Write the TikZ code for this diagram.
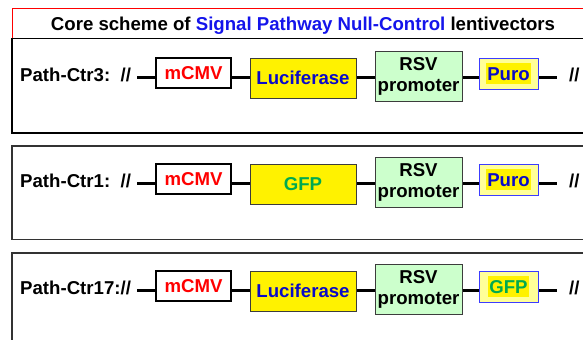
\documentclass[tikz,border=0pt]{standalone}
\usepackage{fontspec}
\setmainfont{Liberation Sans}
\definecolor{titleblue}{RGB}{20,20,235}
\definecolor{lucblue}{RGB}{10,10,200}
\definecolor{gfpgreen}{RGB}{0,170,80}
\definecolor{rsvgreen}{RGB}{204,255,204}
\definecolor{purofill}{RGB}{255,255,153}
\definecolor{puroedge}{RGB}{60,60,255}
\definecolor{mcmvred}{RGB}{255,0,0}
\definecolor{edgegray}{RGB}{60,60,60}
\newcommand\hlbox[2]{{\fboxsep=0pt\colorbox{yellow}{\kern1bp\rule[-4bp]{0pt}{21bp}\textcolor{#1}{#2}\kern1bp}}}
\begin{document}
\begin{tikzpicture}[x=1bp,y=-1bp,
  font=\fontsize{18.7}{21}\selectfont\bfseries,
  panel/.style={draw=black, line width=1.2bp},
  titlebox/.style={draw=red, line width=1bp},
  gene/.style={inner sep=0pt, anchor=center, align=center},
  mcmvbox/.style={gene, draw=black, line width=2bp, fill=white, minimum width=75bp, minimum height=30bp, text=mcmvred},
  midbox/.style={gene, draw=edgegray, line width=1bp, fill=yellow, minimum width=106bp, minimum height=40bp},
  rsvbox/.style={gene, draw=edgegray, line width=1bp, fill=rsvgreen, minimum width=87bp, minimum height=50bp, text=black},
  lastbox/.style={gene, draw=puroedge, line width=1bp, fill=purofill, minimum width=59bp, minimum height=31bp},
  conn/.style={draw=black, line width=3bp},
  rowlabel/.style={anchor=base west, inner sep=0pt},
  endmark/.style={anchor=base west, inner sep=0pt}
]
\useasboundingbox (0,0) rectangle (583,339);
\clip (0,0) rectangle (583,339);
\fill[white] (0,0) rectangle (583,339);

% panels
\draw[panel] (12,38.5) rectangle (600,133);
\draw[titlebox] (12,8.5) -- (600,8.5) (12,8.5) -- (12,38.5);
\draw[black, line width=1.2bp] (12,38.5) -- (600,38.5);
\draw[panel, draw=black!80] (12,146) rectangle (600,239.5);
\draw[panel, draw=black!80] (12,253) rectangle (600,360);

\node[anchor=base, inner sep=0pt] (title) at (303,30)
  {Core scheme of \textcolor{titleblue}{Signal Pathway Null-Control} lentivectors};

\foreach \r/\dy/\lab/\midtxt/\lasttxt in {
  1/0/{Path-Ctr3:\ \ //}/{\textcolor{lucblue}{Luciferase}}/{\hlbox{lucblue}{Puro}},
  2/106/{Path-Ctr1:\ \ //}/{\textcolor{gfpgreen}{GFP}}/{\hlbox{lucblue}{Puro}},
  3/213/{Path-Ctr17://}/{\textcolor{lucblue}{Luciferase}}/{\hlbox{gfpgreen}{GFP}}}
{
  \node[rowlabel] (lab\r) at (20,81+\dy) {\lab};
  \coordinate (s\r) at (137,77+\dy);
  \coordinate (e\r) at (557,77+\dy);
  \draw[conn] (s\r) -- (e\r);
  \node[mcmvbox] (m\r) at (193.5,73+\dy) {mCMV};
  \node[midbox] (g\r) at (303,78+\dy) {\midtxt};
  \node[rsvbox] (p\r) at (418.5,76+\dy) {RSV\\promoter};
  \node[lastbox] (l\r) at (508.5,73.5+\dy) {\lasttxt};
  \node[endmark] (end\r) at (569,81+\dy) {//};
}
\end{tikzpicture}
\end{document}
